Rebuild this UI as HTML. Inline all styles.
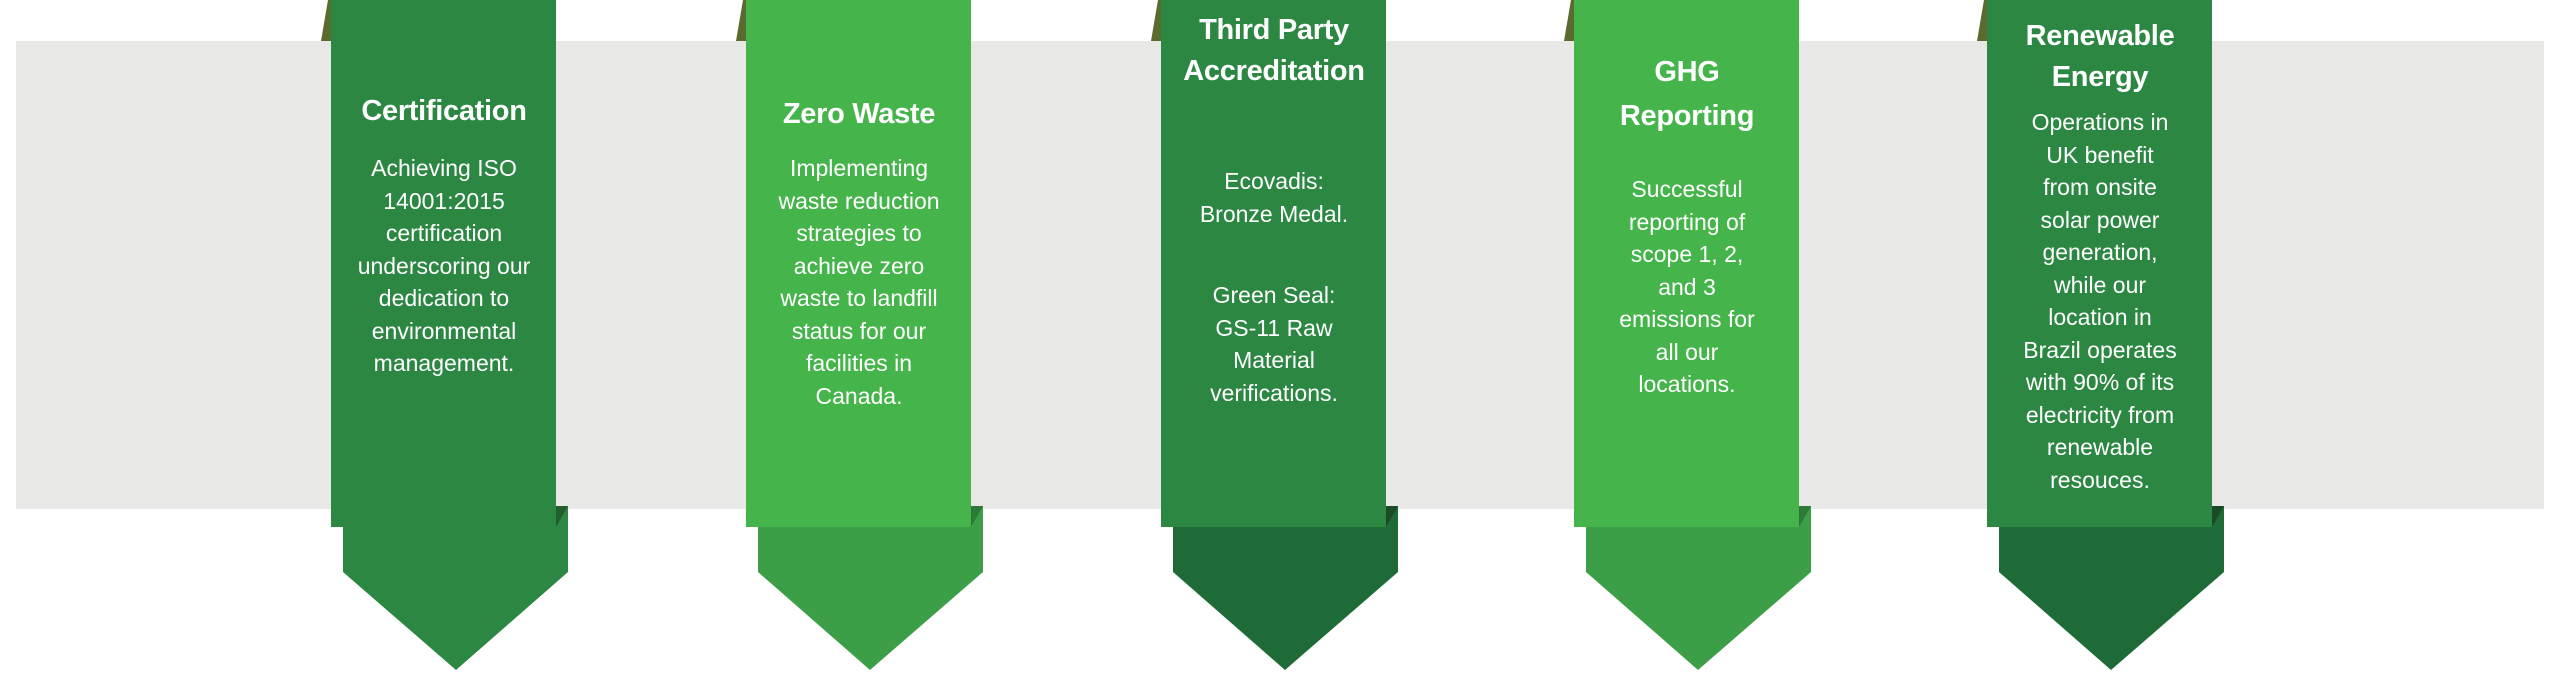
<!DOCTYPE html>
<html><head><meta charset="utf-8"><style>
body{margin:0;width:2560px;height:674px;background:#fff;position:relative;overflow:hidden;font-family:"Liberation Sans",sans-serif;color:#fff}
svg{position:absolute;left:0;top:0}
.t{position:absolute;width:226px;text-align:center;white-space:nowrap}
.h{font-weight:bold;font-size:29px;line-height:41px;letter-spacing:-0.3px}
.b{font-size:23px;line-height:32.5px}
</style></head><body>
<svg width="2560" height="674">
<rect x="16" y="41" width="2528" height="468" fill="#e8e9e7"/>
<!-- card 1 -->
<polygon points="321,41 328,0 331,0 331,41" fill="#5b6a2f"/>
<polygon points="343,506 568,506 568,572 456,670 343,572" fill="#2b8742"/>
<polygon points="556,506 568,506 556,527" fill="#215e30"/>
<rect x="331" y="0" width="225" height="527" fill="#2b8742"/>
<!-- card 2 -->
<polygon points="736,41 743,0 746,0 746,41" fill="#5b6a2f"/>
<polygon points="758,506 983,506 983,572 870,670 758,572" fill="#3c9f48"/>
<polygon points="971,506 983,506 971,527" fill="#2d7a38"/>
<rect x="746" y="0" width="225" height="527" fill="#45b54b"/>
<!-- card 3 -->
<polygon points="1151,41 1158,0 1161,0 1161,41" fill="#5b6a2f"/>
<polygon points="1173,506 1398,506 1398,572 1285,670 1173,572" fill="#1f6b37"/>
<polygon points="1386,506 1398,506 1386,527" fill="#1a4a26"/>
<rect x="1161" y="0" width="225" height="527" fill="#2b8742"/>
<!-- card 4 -->
<polygon points="1564,41 1571,0 1574,0 1574,41" fill="#5b6a2f"/>
<polygon points="1586,506 1811,506 1811,572 1698,670 1586,572" fill="#3c9f48"/>
<polygon points="1799,506 1811,506 1799,527" fill="#2d7a38"/>
<rect x="1574" y="0" width="225" height="527" fill="#45b54b"/>
<!-- card 5 -->
<polygon points="1977,41 1984,0 1987,0 1987,41" fill="#5b6a2f"/>
<polygon points="1999,506 2224,506 2224,572 2111,670 1999,572" fill="#1f6b37"/>
<polygon points="2212,506 2224,506 2212,527" fill="#1a4a26"/>
<rect x="1987" y="0" width="225" height="527" fill="#2b8742"/>
</svg>

<div class="t h" style="left:331px;top:91px">Certification</div>
<div class="t b" style="left:331px;top:152px">Achieving ISO<br>14001:2015<br>certification<br>underscoring our<br>dedication to<br>environmental<br>management.</div>

<div class="t h" style="left:746px;top:94px">Zero Waste</div>
<div class="t b" style="left:746px;top:152px">Implementing<br>waste reduction<br>strategies to<br>achieve zero<br>waste to landfill<br>status for our<br>facilities in<br>Canada.</div>

<div class="t h" style="left:1161px;top:10px">Third Party<br>Accreditation</div>
<div class="t b" style="left:1161px;top:165px">Ecovadis:<br>Bronze Medal.<div style="height:49px"></div>Green Seal:<br>GS-11 Raw<br>Material<br>verifications.</div>

<div class="t h" style="left:1574px;top:50px;line-height:44px">GHG<br>Reporting</div>
<div class="t b" style="left:1574px;top:173px">Successful<br>reporting of<br>scope 1, 2,<br>and 3<br>emissions for<br>all our<br>locations.</div>

<div class="t h" style="left:1987px;top:16px">Renewable<br>Energy</div>
<div class="t b" style="left:1987px;top:106px">Operations in<br>UK benefit<br>from onsite<br>solar power<br>generation,<br>while our<br>location in<br>Brazil operates<br>with 90% of its<br>electricity from<br>renewable<br>resouces.</div>
</body></html>
